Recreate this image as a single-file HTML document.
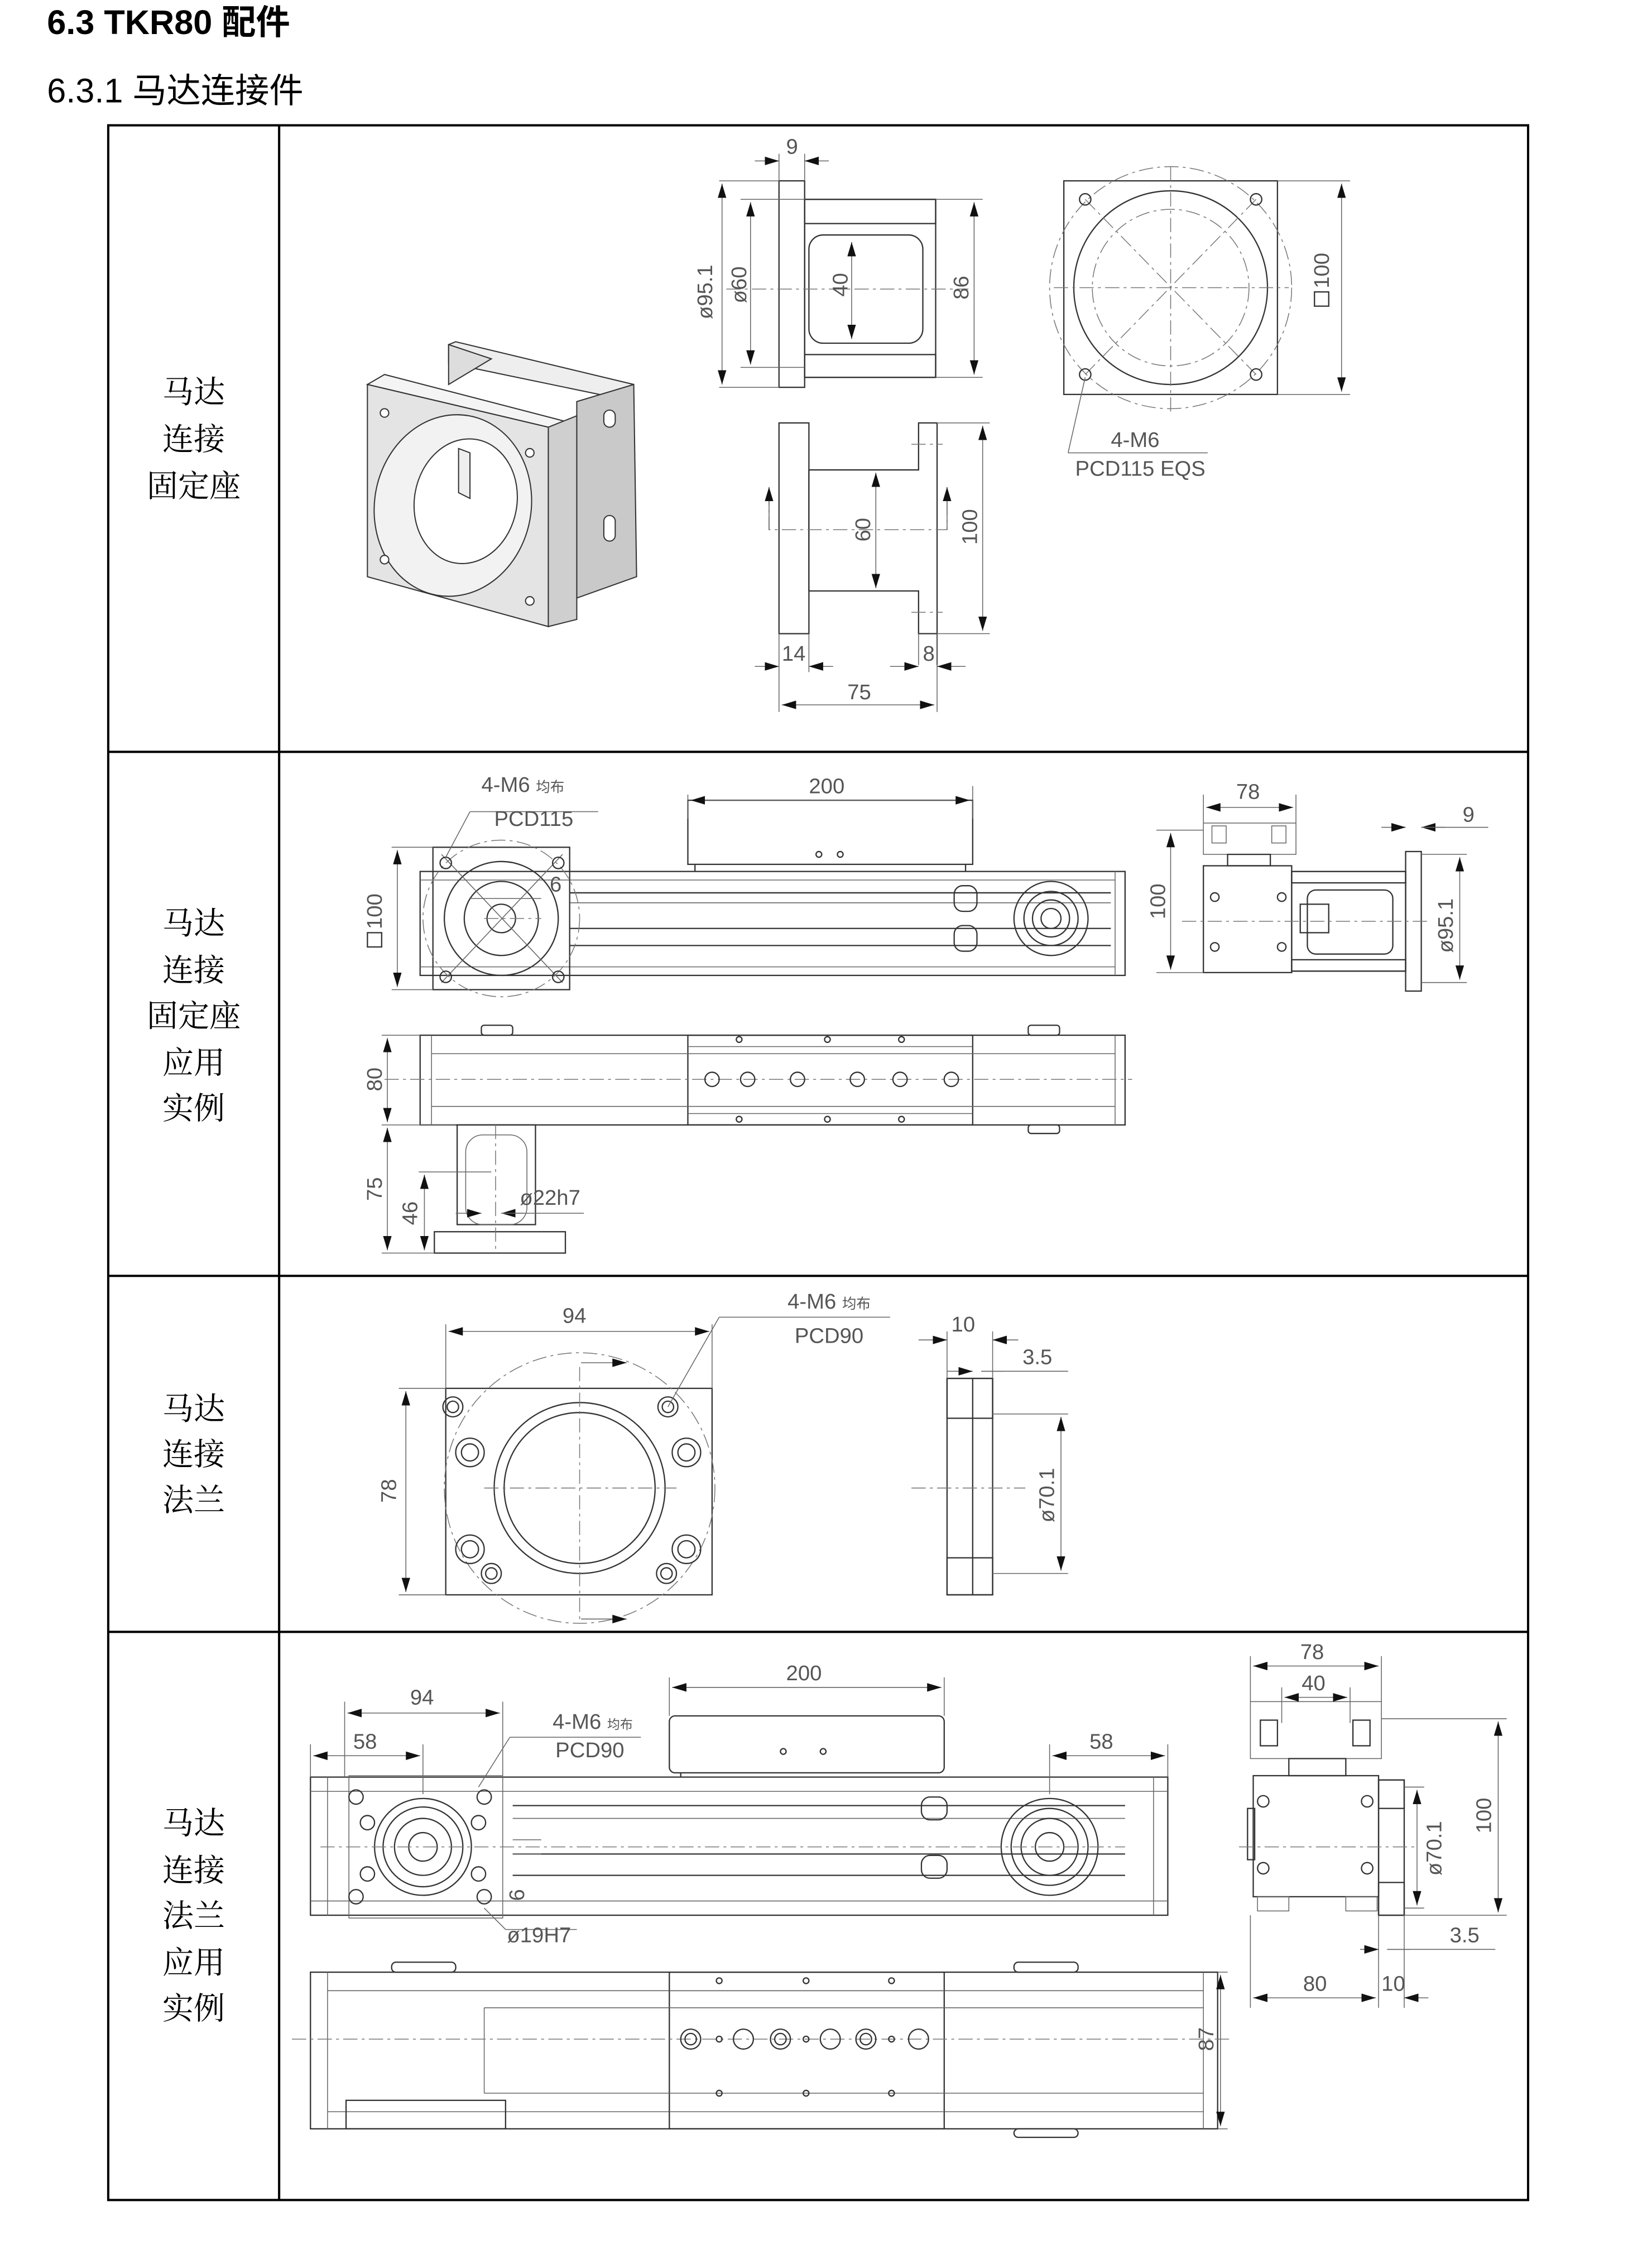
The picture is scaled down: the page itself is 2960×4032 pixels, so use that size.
<!DOCTYPE html>
<html><head><meta charset="utf-8"><style>
html,body{margin:0;padding:0;background:#fff;width:2960px;height:4032px;overflow:hidden}
svg{display:block}
.t{font-family:"Liberation Sans","Noto Sans CJK SC",sans-serif}
.d{font-family:"Liberation Sans",sans-serif;font-size:15px;fill:#555}
.c{font-family:"Liberation Serif","Noto Serif CJK SC",serif;font-size:22px;fill:#000}
.l{stroke:#333;stroke-width:0.9;fill:none}
.g{stroke:#666;stroke-width:0.6;fill:none}
.cl{stroke:#777;stroke-width:0.6;fill:none;stroke-dasharray:10 3 2 3}
</style></head><body>
<svg width="2960" height="4032" viewBox="0 0 1160 1580.1" xmlns="http://www.w3.org/2000/svg">
<defs>
<marker id="a" markerWidth="10" markerHeight="6" refX="10" refY="3" orient="auto-start-reverse" markerUnits="userSpaceOnUse"><path d="M0,0 L10,3 L0,6z" fill="#111"/></marker>
<pattern id="hp" width="6" height="6" patternUnits="userSpaceOnUse" patternTransform="rotate(45)"><line x1="3" y1="0" x2="3" y2="6" stroke="#333" stroke-width="0.8"/></pattern>
</defs>
<text x="33" y="24" class="t" font-size="24" font-weight="bold">6.3 TKR80 配件</text>
<text x="33" y="72" class="t" font-size="24">6.3.1 马达连接件</text>
<!-- table -->
<g stroke="#000" stroke-width="1.6" fill="none">
<rect x="76" y="88" width="997" height="1457"/>
<line x1="196" y1="88" x2="196" y2="1545"/>
<line x1="76" y1="528" x2="1073" y2="528"/>
<line x1="76" y1="896" x2="1073" y2="896"/>
<line x1="76" y1="1146" x2="1073" y2="1146"/>
</g>
<g class="c" text-anchor="middle">
<text x="136" y="283">马达</text><text x="136" y="316">连接</text><text x="136" y="349">固定座</text>
<text x="136" y="656">马达</text><text x="136" y="689">连接</text><text x="136" y="721">固定座</text><text x="136" y="754">应用</text><text x="136" y="786">实例</text>
<text x="136" y="997">马达</text><text x="136" y="1029">连接</text><text x="136" y="1061">法兰</text>
<text x="136" y="1288">马达</text><text x="136" y="1321">连接</text><text x="136" y="1353">法兰</text><text x="136" y="1386">应用</text><text x="136" y="1418">实例</text>
</g>

<!-- ROW 1: 3D part -->
<g stroke="#333" stroke-width="0.8">
<polygon points="315,242 320,240 445,270 445,282 315,255" fill="#eee"/>
<polygon points="315,242 345,252 315,270" fill="#ddd"/>
<polygon points="405,282 445,270 447,405 405,420" fill="#c9c9c9"/>
<polygon points="258,270 270,263 405,298 385,300" fill="#f4f4f4"/>
<polygon points="385,300 405,292 405,435 385,440" fill="#cfcfcf"/>
<polygon points="258,270 385,300 385,440 258,405" fill="#e4e4e4"/>
<ellipse cx="318" cy="355" rx="55" ry="64" fill="#f2f2f2" transform="rotate(10 318 355)"/>
<ellipse cx="327" cy="352" rx="36" ry="44" fill="#fff" transform="rotate(10 327 352)"/>
<polygon points="322,315 330,318 330,350 322,346" fill="#eee"/>
<circle cx="270" cy="290" r="3" fill="#fff"/><circle cx="372" cy="318" r="3" fill="#fff"/>
<circle cx="270" cy="393" r="3" fill="#fff"/><circle cx="372" cy="422" r="3" fill="#fff"/>
<rect x="424" y="288" width="8" height="12" rx="4" fill="#fff"/><rect x="424" y="362" width="8" height="18" rx="4" fill="#fff"/>
</g>
<!-- ROW1 side view top -->
<g>
<rect x="547" y="127" width="18" height="145" class="l"/>
<rect x="565" y="140" width="92" height="125" class="l"/>
<rect x="565" y="140" width="92" height="17" fill="url(#hp)" class="l"/>
<rect x="565" y="249" width="92" height="16" fill="url(#hp)" class="l"/>
<rect x="568" y="165" width="80" height="76" rx="10" class="l"/>
<line x1="510" y1="203" x2="680" y2="203" class="cl"/>
<line x1="505" y1="127" x2="547" y2="127" class="g"/><line x1="505" y1="272" x2="547" y2="272" class="g"/>
<line x1="507" y1="129" x2="507" y2="270" class="g" marker-start="url(#a)" marker-end="url(#a)"/>
<text class="d" transform="translate(500,205) rotate(-90)" text-anchor="middle">ø95.1</text>
<line x1="527" y1="142" x2="527" y2="256" class="g" marker-start="url(#a)" marker-end="url(#a)"/>
<line x1="520" y1="140" x2="565" y2="140" class="g"/><line x1="520" y1="258" x2="565" y2="258" class="g"/>
<text class="d" transform="translate(524,200) rotate(-90)" text-anchor="middle">ø60</text>
<line x1="598" y1="170" x2="598" y2="238" class="g" marker-start="url(#a)" marker-end="url(#a)"/>
<text class="d" transform="translate(595,200) rotate(-90)" text-anchor="middle">40</text>
<line x1="657" y1="140" x2="690" y2="140" class="g"/><line x1="657" y1="265" x2="690" y2="265" class="g"/>
<line x1="684" y1="142" x2="684" y2="263" class="g" marker-start="url(#a)" marker-end="url(#a)"/>
<text class="d" transform="translate(680,202) rotate(-90)" text-anchor="middle">86</text>
<line x1="547" y1="108" x2="547" y2="127" class="g"/><line x1="565" y1="108" x2="565" y2="127" class="g"/>
<line x1="530" y1="113" x2="547" y2="113" class="g" marker-end="url(#a)"/><line x1="582" y1="113" x2="565" y2="113" class="g" marker-end="url(#a)"/>
<text class="d" x="552" y="108">9</text>
</g>
<!-- ROW1 front view -->
<g>
<rect x="747" y="127" width="150" height="150" class="l"/>
<circle cx="822" cy="202" r="85" class="cl"/>
<circle cx="822" cy="202" r="68" class="l"/>
<circle cx="822" cy="202" r="55" class="cl"/>
<line x1="740" y1="202" x2="905" y2="202" class="cl"/><line x1="822" y1="117" x2="822" y2="290" class="cl"/>
<line x1="762" y1="140" x2="882" y2="263" class="cl"/><line x1="882" y1="140" x2="762" y2="263" class="cl"/>
<circle cx="762" cy="140" r="4" class="l"/><circle cx="882" cy="140" r="4" class="l"/><circle cx="762" cy="263" r="4" class="l"/><circle cx="882" cy="263" r="4" class="l"/>
<line x1="897" y1="127" x2="948" y2="127" class="g"/><line x1="897" y1="277" x2="948" y2="277" class="g"/>
<line x1="942" y1="129" x2="942" y2="275" class="g" marker-start="url(#a)" marker-end="url(#a)"/>
<rect x="923" y="205" width="10" height="10" class="l"/>
<text class="d" transform="translate(933,190) rotate(-90)" text-anchor="middle">100</text>
<line x1="762" y1="265" x2="750" y2="318" class="g"/><line x1="750" y1="318" x2="848" y2="318" class="g"/>
<text class="d" x="780" y="314">4-M6</text><text class="d" x="755" y="334">PCD115 EQS</text>
</g>
<!-- ROW1 lower side view -->
<g>
<rect x="547" y="297" width="21" height="148" class="l"/>
<polyline points="568,330 645,330 645,297 658,297" class="l"/>
<polyline points="568,415 645,415 645,445 658,445" class="l"/>
<line x1="568" y1="330" x2="568" y2="415" class="l"/>
<line x1="658" y1="297" x2="658" y2="467" class="l"/>
<line x1="645" y1="445" x2="645" y2="467" class="g"/>
<line x1="640" y1="312" x2="662" y2="312" class="cl"/><line x1="640" y1="430" x2="662" y2="430" class="cl"/>
<line x1="547" y1="445" x2="547" y2="500" class="g"/>
<line x1="568" y1="445" x2="568" y2="472" class="g"/>
<polyline points="540,345 540,372 665,372 665,345" class="cl"/>
<line x1="540" y1="372" x2="540" y2="342" class="g" marker-end="url(#a)"/>
<line x1="665" y1="372" x2="665" y2="342" class="g" marker-end="url(#a)"/>
<line x1="615" y1="332" x2="615" y2="413" class="g" marker-start="url(#a)" marker-end="url(#a)"/>
<text class="d" transform="translate(611,372) rotate(-90)" text-anchor="middle">60</text>
<line x1="658" y1="297" x2="695" y2="297" class="g"/><line x1="658" y1="445" x2="695" y2="445" class="g"/>
<line x1="690" y1="299" x2="690" y2="443" class="g" marker-start="url(#a)" marker-end="url(#a)"/>
<text class="d" transform="translate(686,370) rotate(-90)" text-anchor="middle">100</text>
<line x1="658" y1="445" x2="658" y2="500" class="g"/>
<line x1="530" y1="468" x2="547" y2="468" class="g" marker-end="url(#a)"/><line x1="585" y1="468" x2="568" y2="468" class="g" marker-end="url(#a)"/>
<text class="d" x="549" y="464">14</text>
<line x1="625" y1="468" x2="645" y2="468" class="g" marker-end="url(#a)"/><line x1="678" y1="468" x2="658" y2="468" class="g" marker-end="url(#a)"/>
<text class="d" x="648" y="464">8</text>
<line x1="549" y1="495" x2="656" y2="495" class="g" marker-start="url(#a)" marker-end="url(#a)"/>
<text class="d" x="595" y="491">75</text>
</g>

<!-- ROW 2 -->
<g>
<rect x="483" y="562" width="200" height="45" class="l"/>
<line x1="488" y1="607" x2="488" y2="612" class="l"/><line x1="678" y1="607" x2="678" y2="612" class="l"/>
<line x1="483" y1="558" x2="483" y2="575" class="g"/><line x1="683" y1="552" x2="683" y2="575" class="g"/>
<line x1="485" y1="562" x2="681" y2="562" class="g" marker-start="url(#a)" marker-end="url(#a)"/>
<text class="d" x="568" y="557" font-size="16">200</text>
<circle cx="575" cy="600" r="2" class="l"/><circle cx="590" cy="600" r="2" class="l"/>
<rect x="295" y="612" width="495" height="73" class="l"/>
<line x1="295" y1="618" x2="783" y2="618" class="g"/><line x1="295" y1="679" x2="783" y2="679" class="g"/>
<line x1="783" y1="612" x2="783" y2="685" class="g"/>
<line x1="400" y1="627" x2="780" y2="627" class="l"/><line x1="400" y1="634" x2="780" y2="634" class="g"/>
<line x1="400" y1="652" x2="780" y2="652" class="l"/><line x1="400" y1="664" x2="780" y2="664" class="l"/>
<rect x="670" y="622" width="16" height="18" rx="6" class="l"/><rect x="670" y="650" width="16" height="18" rx="6" class="l"/>
<circle cx="738" cy="645" r="26" class="l"/><circle cx="738" cy="645" r="19" class="l"/><circle cx="738" cy="645" r="13" class="l"/><circle cx="738" cy="645" r="7" class="l"/>
<rect x="304" y="595" width="96" height="100" class="l"/>
<circle cx="352" cy="645" r="55" class="cl"/><circle cx="352" cy="645" r="40" class="l"/><circle cx="352" cy="645" r="26" class="l"/><circle cx="352" cy="645" r="10" class="l"/>
<line x1="310" y1="600" x2="395" y2="690" class="g"/><line x1="395" y1="600" x2="310" y2="690" class="g"/>
<line x1="340" y1="645" x2="380" y2="645" class="cl"/>
<circle cx="313" cy="606" r="4" class="l"/><circle cx="392" cy="606" r="4" class="l"/><circle cx="313" cy="686" r="4" class="l"/><circle cx="392" cy="686" r="4" class="l"/>
<line x1="275" y1="595" x2="304" y2="595" class="g"/><line x1="275" y1="695" x2="304" y2="695" class="g"/>
<line x1="279" y1="597" x2="279" y2="693" class="g" marker-start="url(#a)" marker-end="url(#a)"/>
<rect x="258" y="655" width="10" height="10" class="l"/>
<text class="d" transform="translate(268,640) rotate(-90)" text-anchor="middle">100</text>
<line x1="313" y1="602" x2="330" y2="570" class="g"/><line x1="330" y1="570" x2="420" y2="570" class="g"/>
<text class="d" x="338" y="556">4-M6 <tspan font-size="10">均布</tspan></text><text class="d" x="347" y="580">PCD115</text>
<text class="d" x="386" y="626">6</text>
<line x1="330" y1="631" x2="380" y2="631" class="g"/>
<rect x="295" y="727" width="495" height="63" class="l"/>
<line x1="303" y1="727" x2="303" y2="790" class="g"/><line x1="783" y1="727" x2="783" y2="790" class="g"/>
<rect x="483" y="727" width="200" height="63" class="l"/>
<line x1="483" y1="735" x2="683" y2="735" class="g"/><line x1="483" y1="782" x2="683" y2="782" class="g"/>
<line x1="303" y1="740" x2="783" y2="740" class="g"/><line x1="303" y1="777" x2="783" y2="777" class="g"/>
<line x1="270" y1="758" x2="795" y2="758" class="cl"/>
<g class="l"><circle cx="500" cy="758" r="5"/><circle cx="525" cy="758" r="5"/><circle cx="560" cy="758" r="5"/><circle cx="602" cy="758" r="5"/><circle cx="632" cy="758" r="5"/><circle cx="668" cy="758" r="5"/></g>
<g class="l"><circle cx="519" cy="730" r="2"/><circle cx="581" cy="730" r="2"/><circle cx="633" cy="730" r="2"/><circle cx="519" cy="786" r="2"/><circle cx="581" cy="786" r="2"/><circle cx="633" cy="786" r="2"/></g>
<rect x="338" y="720" width="22" height="7" rx="2" class="l"/><rect x="722" y="720" width="22" height="7" rx="2" class="l"/><rect x="722" y="790" width="22" height="6" rx="2" class="l"/>
<line x1="268" y1="727" x2="295" y2="727" class="g"/><line x1="268" y1="790" x2="320" y2="790" class="g"/>
<line x1="272" y1="729" x2="272" y2="788" class="g" marker-start="url(#a)" marker-end="url(#a)"/>
<text class="d" transform="translate(268,758) rotate(-90)" text-anchor="middle">80</text>
<rect x="321" y="790" width="55" height="70" class="l"/>
<rect x="327" y="797" width="43" height="63" rx="12" class="g"/>
<rect x="305" y="865" width="92" height="15" class="l"/>
<line x1="348" y1="790" x2="348" y2="880" class="cl"/>
<line x1="268" y1="880" x2="305" y2="880" class="g"/>
<line x1="272" y1="792" x2="272" y2="878" class="g" marker-start="url(#a)" marker-end="url(#a)"/>
<text class="d" transform="translate(268,835) rotate(-90)" text-anchor="middle">75</text>
<line x1="294" y1="823" x2="345" y2="823" class="g"/>
<line x1="298" y1="825" x2="298" y2="878" class="g" marker-start="url(#a)" marker-end="url(#a)"/>
<text class="d" transform="translate(293,852) rotate(-90)" text-anchor="middle">46</text>
<line x1="320" y1="852" x2="338" y2="852" class="g" marker-end="url(#a)"/><line x1="368" y1="852" x2="352" y2="852" class="g" marker-end="url(#a)"/><line x1="352" y1="852" x2="410" y2="852" class="g"/>
<text class="d" x="365" y="846">ø22h7</text>
<rect x="845" y="578" width="65" height="22" class="g"/>
<rect x="851" y="580" width="10" height="12" class="g"/><rect x="893" y="580" width="10" height="12" class="g"/>
<rect x="862" y="600" width="30" height="8" class="l"/>
<rect x="845" y="608" width="62" height="75" class="l"/>
<circle cx="853" cy="630" r="3" class="l"/><circle cx="853" cy="665" r="3" class="l"/><circle cx="900" cy="630" r="3" class="l"/><circle cx="900" cy="665" r="3" class="l"/>
<rect x="907" y="612" width="80" height="70" class="l"/>
<rect x="907" y="612" width="80" height="8" fill="url(#hp)" class="l"/><rect x="907" y="674" width="80" height="8" fill="url(#hp)" class="l"/>
<rect x="918" y="625" width="60" height="45" rx="6" class="l"/>
<rect x="913" y="635" width="20" height="20" class="l"/>
<rect x="987" y="598" width="11" height="98" class="l" fill="url(#hp)"/>
<line x1="830" y1="647" x2="1005" y2="647" class="cl"/>
<line x1="812" y1="583" x2="845" y2="583" class="g"/><line x1="812" y1="683" x2="845" y2="683" class="g"/>
<line x1="822" y1="585" x2="822" y2="681" class="g" marker-start="url(#a)" marker-end="url(#a)"/>
<text class="d" transform="translate(818,633) rotate(-90)" text-anchor="middle">100</text>
<line x1="845" y1="558" x2="845" y2="578" class="g"/><line x1="910" y1="558" x2="910" y2="578" class="g"/>
<line x1="847" y1="567" x2="908" y2="567" class="g" marker-start="url(#a)" marker-end="url(#a)"/>
<text class="d" x="868" y="561" font-size="16">78</text>
<line x1="970" y1="581" x2="987" y2="581" class="g" marker-end="url(#a)"/><line x1="1015" y1="581" x2="998" y2="581" class="g" marker-end="url(#a)"/><line x1="998" y1="581" x2="1045" y2="581" class="g"/>
<text class="d" x="1027" y="577">9</text>
<line x1="998" y1="600" x2="1030" y2="600" class="g"/><line x1="998" y1="690" x2="1030" y2="690" class="g"/>
<line x1="1025" y1="602" x2="1025" y2="688" class="g" marker-start="url(#a)" marker-end="url(#a)"/>
<text class="d" transform="translate(1020,650) rotate(-90)" text-anchor="middle">ø95.1</text>
</g>

<!-- ROW 3 -->
<g>
<rect x="313" y="975" width="187" height="145" class="l"/>
<circle cx="407" cy="1045" r="95" class="cl"/>
<circle cx="407" cy="1045" r="60" class="l"/><circle cx="407" cy="1045" r="53" class="l"/>
<line x1="340" y1="1045" x2="475" y2="1045" class="cl"/><line x1="407" y1="960" x2="407" y2="1140" class="cl"/>
<g class="l"><circle cx="318" cy="988" r="7"/><circle cx="318" cy="988" r="4"/><circle cx="469" cy="988" r="7"/><circle cx="469" cy="988" r="4"/>
<circle cx="330" cy="1020" r="10"/><circle cx="330" cy="1020" r="6"/><circle cx="482" cy="1020" r="10"/><circle cx="482" cy="1020" r="6"/>
<circle cx="330" cy="1088" r="10"/><circle cx="330" cy="1088" r="6"/><circle cx="482" cy="1088" r="10"/><circle cx="482" cy="1088" r="6"/>
<circle cx="345" cy="1105" r="7"/><circle cx="345" cy="1105" r="4"/><circle cx="468" cy="1105" r="7"/><circle cx="468" cy="1105" r="4"/></g>
<line x1="408" y1="957" x2="440" y2="957" class="g" marker-end="url(#a)"/>
<line x1="408" y1="1137" x2="440" y2="1137" class="g" marker-end="url(#a)"/>
<line x1="313" y1="930" x2="313" y2="975" class="g"/><line x1="500" y1="930" x2="500" y2="975" class="g"/>
<line x1="315" y1="935" x2="498" y2="935" class="g" marker-start="url(#a)" marker-end="url(#a)"/>
<text class="d" x="395" y="929" font-size="16">94</text>
<line x1="280" y1="975" x2="313" y2="975" class="g"/><line x1="280" y1="1120" x2="313" y2="1120" class="g"/>
<line x1="285" y1="977" x2="285" y2="1118" class="g" marker-start="url(#a)" marker-end="url(#a)"/>
<text class="d" transform="translate(278,1047) rotate(-90)" text-anchor="middle" font-size="16">78</text>
<line x1="469" y1="988" x2="505" y2="925" class="g"/><line x1="505" y1="925" x2="625" y2="925" class="g"/>
<text class="d" x="553" y="919" font-size="16">4-M6 <tspan font-size="10">均布</tspan></text><text class="d" x="558" y="943" font-size="16">PCD90</text>
<rect x="665" y="968" width="32" height="152" class="l"/>
<rect x="665" y="968" width="32" height="28" fill="url(#hp)" class="l"/>
<rect x="665" y="1094" width="32" height="26" fill="url(#hp)" class="l"/>
<line x1="683" y1="968" x2="683" y2="1120" class="l"/>
<line x1="640" y1="1045" x2="720" y2="1045" class="cl"/>
<line x1="665" y1="935" x2="665" y2="968" class="g"/><line x1="697" y1="935" x2="697" y2="968" class="g"/>
<line x1="645" y1="941" x2="665" y2="941" class="g" marker-end="url(#a)"/><line x1="715" y1="941" x2="697" y2="941" class="g" marker-end="url(#a)"/>
<text class="d" x="668" y="935" font-size="16">10</text>
<line x1="665" y1="963" x2="683" y2="963" class="g" marker-end="url(#a)"/><line x1="705" y1="963" x2="689" y2="963" class="g"/><line x1="689" y1="963" x2="750" y2="963" class="g"/>
<text class="d" x="718" y="958" font-size="16">3.5</text>
<line x1="697" y1="993" x2="750" y2="993" class="g"/><line x1="697" y1="1105" x2="750" y2="1105" class="g"/>
<line x1="745" y1="995" x2="745" y2="1103" class="g" marker-start="url(#a)" marker-end="url(#a)"/>
<text class="d" transform="translate(740,1050) rotate(-90)" text-anchor="middle" font-size="16">ø70.1</text>
</g>

<!-- ROW 4 -->
<g>
<rect x="470" y="1205" width="193" height="40" rx="4" class="l"/>
<line x1="478" y1="1245" x2="478" y2="1248" class="l"/>
<line x1="470" y1="1178" x2="470" y2="1205" class="g"/><line x1="663" y1="1178" x2="663" y2="1205" class="g"/>
<line x1="472" y1="1185" x2="661" y2="1185" class="g" marker-start="url(#a)" marker-end="url(#a)"/>
<text class="d" x="552" y="1180" font-size="16">200</text>
<circle cx="550" cy="1230" r="2" class="l"/><circle cx="578" cy="1230" r="2" class="l"/>
<rect x="218" y="1248" width="602" height="97" class="l"/>
<line x1="230" y1="1248" x2="230" y2="1345" class="g"/><line x1="810" y1="1248" x2="810" y2="1345" class="g"/>
<line x1="218" y1="1258" x2="820" y2="1258" class="g"/><line x1="218" y1="1335" x2="820" y2="1335" class="g"/>
<line x1="360" y1="1268" x2="790" y2="1268" class="l"/><line x1="360" y1="1277" x2="790" y2="1277" class="g"/>
<line x1="360" y1="1302" x2="790" y2="1302" class="l"/><line x1="360" y1="1317" x2="790" y2="1317" class="l"/>
<rect x="647" y="1262" width="18" height="16" rx="6" class="l"/><rect x="647" y="1303" width="18" height="16" rx="6" class="l"/>
<circle cx="737" cy="1297" r="34" class="l"/><circle cx="737" cy="1297" r="27" class="l"/><circle cx="737" cy="1297" r="20" class="l"/><circle cx="737" cy="1297" r="10" class="l"/>
<circle cx="297" cy="1297" r="34" class="l"/><circle cx="297" cy="1297" r="28" class="l"/><circle cx="297" cy="1297" r="20" class="l"/><circle cx="297" cy="1297" r="10" class="l"/>
<rect x="245" y="1247" width="108" height="100" class="g"/>
<g class="l"><circle cx="250" cy="1262" r="5"/><circle cx="340" cy="1262" r="5"/><circle cx="250" cy="1332" r="5"/><circle cx="340" cy="1332" r="5"/><circle cx="258" cy="1280" r="5"/><circle cx="336" cy="1280" r="5"/><circle cx="258" cy="1316" r="5"/><circle cx="336" cy="1316" r="5"/></g>
<line x1="225" y1="1297" x2="790" y2="1297" class="cl"/>
<line x1="242" y1="1195" x2="242" y2="1248" class="g"/><line x1="353" y1="1195" x2="353" y2="1248" class="g"/>
<line x1="244" y1="1203" x2="351" y2="1203" class="g" marker-start="url(#a)" marker-end="url(#a)"/>
<text class="d" x="288" y="1197" font-size="16">94</text>
<line x1="218" y1="1225" x2="218" y2="1248" class="g"/><line x1="297" y1="1225" x2="297" y2="1260" class="g"/>
<line x1="220" y1="1233" x2="295" y2="1233" class="g" marker-start="url(#a)" marker-end="url(#a)"/>
<text class="d" x="248" y="1228" font-size="16">58</text>
<line x1="737" y1="1225" x2="737" y2="1260" class="g"/><line x1="820" y1="1225" x2="820" y2="1248" class="g"/>
<line x1="739" y1="1233" x2="818" y2="1233" class="g" marker-start="url(#a)" marker-end="url(#a)"/>
<text class="d" x="765" y="1228" font-size="16">58</text>
<line x1="336" y1="1255" x2="358" y2="1220" class="g"/><line x1="358" y1="1220" x2="450" y2="1220" class="g"/>
<text class="d" x="388" y="1214" font-size="13">4-M6 <tspan font-size="9">均布</tspan></text><text class="d" x="390" y="1234" font-size="14">PCD90</text>
<line x1="340" y1="1340" x2="355" y2="1355" class="g"/><line x1="355" y1="1355" x2="405" y2="1355" class="g"/>
<text class="d" x="356" y="1364" font-size="15">ø19H7</text>
<text class="d" transform="translate(368,1335) rotate(-90)" font-size="13">6</text>
<line x1="360" y1="1292" x2="380" y2="1292" class="g"/><line x1="360" y1="1302" x2="380" y2="1302" class="g"/>
<rect x="218" y="1385" width="637" height="110" class="l"/>
<line x1="230" y1="1385" x2="230" y2="1495" class="g"/><line x1="845" y1="1385" x2="845" y2="1495" class="g"/>
<line x1="230" y1="1398" x2="845" y2="1398" class="g"/><line x1="230" y1="1483" x2="845" y2="1483" class="g"/>
<rect x="470" y="1385" width="193" height="110" class="l"/>
<line x1="470" y1="1398" x2="663" y2="1398" class="g"/><line x1="470" y1="1483" x2="663" y2="1483" class="g"/>
<line x1="340" y1="1410" x2="845" y2="1410" class="g"/><line x1="340" y1="1470" x2="845" y2="1470" class="g"/>
<line x1="340" y1="1410" x2="340" y2="1470" class="g"/>
<rect x="275" y="1378" width="45" height="7" rx="3" class="l"/><rect x="712" y="1378" width="45" height="7" rx="3" class="l"/><rect x="712" y="1495" width="45" height="6" rx="3" class="l"/>
<rect x="243" y="1475" width="112" height="20" class="l" fill="url(#hp)"/>
<line x1="205" y1="1432" x2="865" y2="1432" class="cl"/>
<g class="l"><circle cx="485" cy="1432" r="7"/><circle cx="485" cy="1432" r="4"/><circle cx="522" cy="1432" r="7"/><circle cx="548" cy="1432" r="7"/><circle cx="548" cy="1432" r="4"/><circle cx="583" cy="1432" r="7"/><circle cx="608" cy="1432" r="7"/><circle cx="608" cy="1432" r="4"/><circle cx="645" cy="1432" r="7"/>
<circle cx="505" cy="1432" r="2"/><circle cx="566" cy="1432" r="2"/><circle cx="626" cy="1432" r="2"/>
<circle cx="505" cy="1391" r="2"/><circle cx="566" cy="1391" r="2"/><circle cx="626" cy="1391" r="2"/><circle cx="505" cy="1470" r="2"/><circle cx="566" cy="1470" r="2"/><circle cx="626" cy="1470" r="2"/></g>
<line x1="855" y1="1385" x2="862" y2="1385" class="g"/><line x1="855" y1="1495" x2="862" y2="1495" class="g"/>
<line x1="857" y1="1387" x2="857" y2="1493" class="g" marker-start="url(#a)" marker-end="url(#a)"/>
<text class="d" transform="translate(852,1432) rotate(-90)" text-anchor="middle" font-size="15">87</text>
<rect x="878" y="1195" width="92" height="40" class="g"/>
<rect x="885" y="1208" width="12" height="18" class="l"/><rect x="950" y="1208" width="12" height="18" class="l"/>
<rect x="905" y="1235" width="40" height="12" class="l"/>
<rect x="880" y="1247" width="88" height="85" class="l"/>
<g class="l"><circle cx="887" cy="1265" r="4"/><circle cx="887" cy="1312" r="4"/><circle cx="960" cy="1265" r="4"/><circle cx="960" cy="1312" r="4"/></g>
<rect x="876" y="1270" width="5" height="36" class="l"/>
<rect x="968" y="1250" width="18" height="95" class="l"/>
<rect x="968" y="1250" width="18" height="20" fill="url(#hp)" class="l"/><rect x="968" y="1322" width="18" height="23" fill="url(#hp)" class="l"/>
<rect x="883" y="1332" width="22" height="10" class="g"/><rect x="945" y="1332" width="22" height="10" class="g"/>
<line x1="870" y1="1297" x2="995" y2="1297" class="cl"/>
<line x1="878" y1="1163" x2="878" y2="1195" class="g"/><line x1="970" y1="1163" x2="970" y2="1195" class="g"/>
<line x1="880" y1="1170" x2="968" y2="1170" class="g" marker-start="url(#a)" marker-end="url(#a)"/>
<text class="d" x="913" y="1165" font-size="16">78</text>
<line x1="900" y1="1185" x2="900" y2="1210" class="g"/><line x1="948" y1="1185" x2="948" y2="1210" class="g"/>
<line x1="902" y1="1192" x2="946" y2="1192" class="g" marker-start="url(#a)" marker-end="url(#a)"/>
<text class="d" x="914" y="1187" font-size="16">40</text>
<line x1="970" y1="1207" x2="1058" y2="1207" class="g"/><line x1="986" y1="1345" x2="1058" y2="1345" class="g"/>
<line x1="1052" y1="1209" x2="1052" y2="1343" class="g" marker-start="url(#a)" marker-end="url(#a)"/>
<text class="d" transform="translate(1047,1275) rotate(-90)" text-anchor="middle" font-size="16">100</text>
<line x1="986" y1="1255" x2="1000" y2="1255" class="g"/><line x1="986" y1="1340" x2="1000" y2="1340" class="g"/>
<line x1="995" y1="1257" x2="995" y2="1338" class="g" marker-start="url(#a)" marker-end="url(#a)"/>
<text class="d" transform="translate(1012,1298) rotate(-90)" text-anchor="middle" font-size="16">ø70.1</text>
<line x1="968" y1="1345" x2="968" y2="1410" class="g"/><line x1="986" y1="1345" x2="986" y2="1410" class="g"/><line x1="878" y1="1345" x2="878" y2="1410" class="g"/>
<line x1="955" y1="1369" x2="968" y2="1369" class="g" marker-end="url(#a)"/><line x1="990" y1="1369" x2="974" y2="1369" class="g"/><line x1="974" y1="1369" x2="1050" y2="1369" class="g"/>
<text class="d" x="1018" y="1364" font-size="16">3.5</text>
<line x1="880" y1="1403" x2="966" y2="1403" class="g" marker-start="url(#a)" marker-end="url(#a)"/>
<text class="d" x="915" y="1398" font-size="16">80</text>
<line x1="1003" y1="1403" x2="986" y2="1403" class="g" marker-end="url(#a)"/>
<text class="d" x="970" y="1398" font-size="16">10</text>
</g>
</svg>
</body></html>
